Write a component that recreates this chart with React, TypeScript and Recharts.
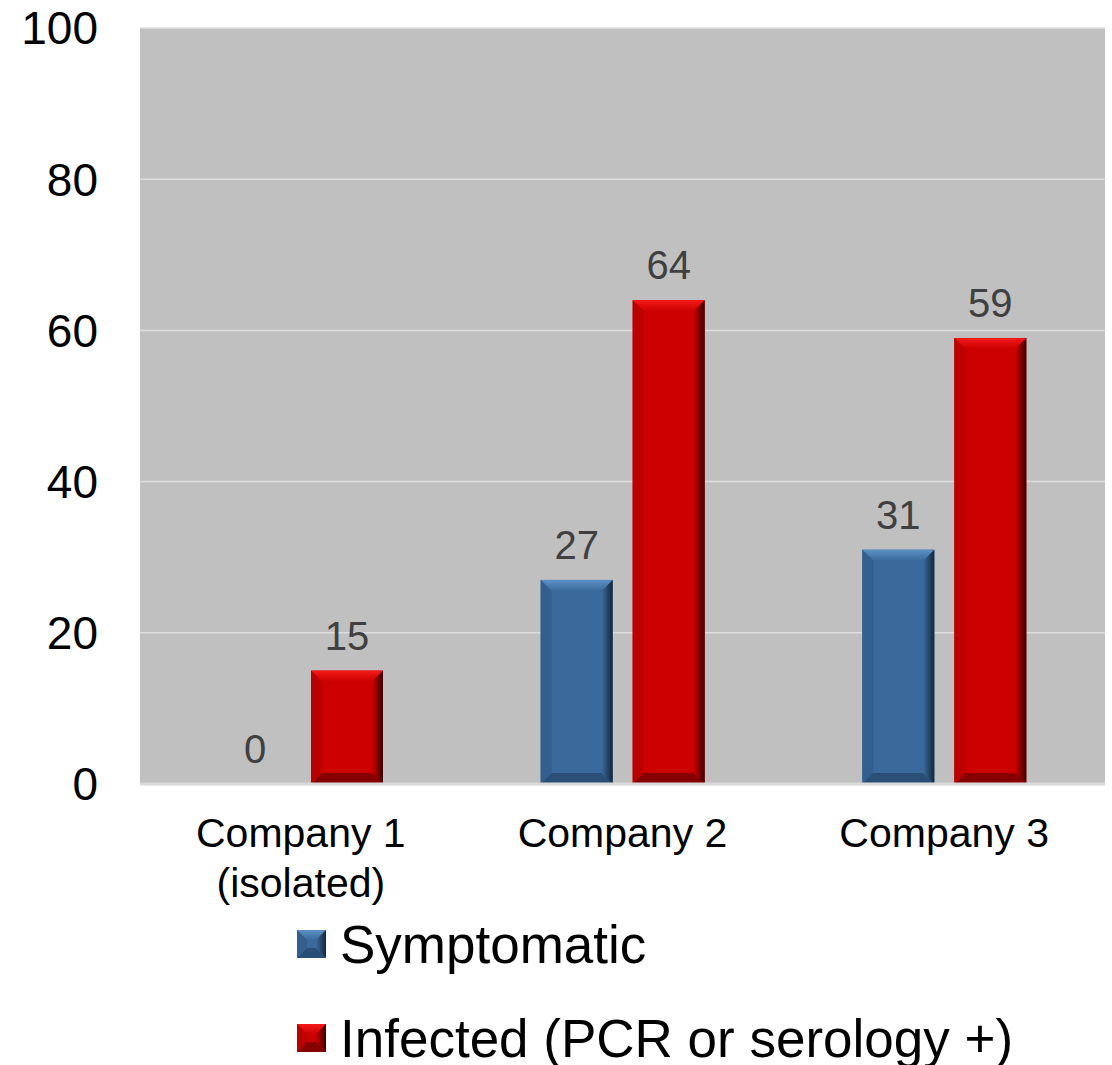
import { BarChart, Bar, XAxis, YAxis, CartesianGrid, Legend, LabelList } from 'recharts';

const categories = ['Company 1\n(isolated)', 'Company 2', 'Company 3'];
const symptomatic = [0, 27, 31];
const infected = [15, 64, 59];
const yTicks = [0, 20, 40, 60, 80, 100];
const seriesOrder = ['symptomatic', 'infected'];

const FONT = '"Liberation Sans", Arial, sans-serif';

const BLUE = { id: 'blue', base: '#3a6a9c', top: '#5d91c6', left: '#325f8d', bottom: '#2a4f76', dark: '#13263a' };
const RED = { id: 'red', base: '#cc0000', top: '#f41a1a', left: '#bb0000', bottom: '#860000', dark: '#380000' };

const data = categories.map((name, i) => ({
  name,
  symptomatic: symptomatic[i],
  infected: infected[i],
}));

type Palette = typeof BLUE;

function Bevel({ x, y, w, h, b, pal }: { x: number; y: number; w: number; h: number; b: number; pal: Palette }) {
  const gid = `edge-${pal.id}`;
  const tid = `top-${pal.id}`;
  return (
    <g>
      <defs>
        <linearGradient id={gid} x1="0" y1="0" x2="1" y2="0">
          <stop offset="0%" stopColor={pal.base} />
          <stop offset="100%" stopColor={pal.dark} />
        </linearGradient>
        <linearGradient id={tid} x1="0" y1="0" x2="0" y2="1">
          <stop offset="0%" stopColor={pal.top} />
          <stop offset="100%" stopColor={pal.base} />
        </linearGradient>
      </defs>
      <rect x={x} y={y} width={w} height={h} fill={pal.base} />
      <polygon points={`${x},${y} ${x + w},${y} ${x + w - b},${y + b} ${x + b},${y + b}`} fill={`url(#${tid})`} />
      <polygon points={`${x},${y} ${x + b},${y + b} ${x + b},${y + h - b} ${x},${y + h}`} fill={pal.left} />
      <polygon points={`${x},${y + h} ${x + w},${y + h} ${x + w - b},${y + h - b} ${x + b},${y + h - b}`} fill={pal.bottom} />
      <polygon points={`${x + w},${y} ${x + w},${y + h} ${x + w - b},${y + h - b} ${x + w - b},${y + b}`} fill={`url(#${gid})`} />
    </g>
  );
}

const makeShape = (pal: Palette) => (props: any) => {
  const { x, y, width, height } = props;
  if (!height || height <= 0) return <g />;
  const b = Math.min(11, height / 2, width / 2);
  return <Bevel x={x} y={y} w={width} h={height} b={b} pal={pal} />;
};

const CategoryTick = ({ x, y, payload }: any) => {
  const lines = String(payload.value).split('\n');
  return (
    <text x={x} y={y} textAnchor="middle" fontSize={41} fill="#000" fontFamily={FONT}>
      {lines.map((l, i) => (
        <tspan key={i} x={x} dy={i === 0 ? 63 : 50}>{l}</tspan>
      ))}
    </text>
  );
};

const LegendContent = ({ payload }: any) => {
  const items = [...(payload || [])].sort(
    (a: any, b: any) => seriesOrder.indexOf(a.dataKey) - seriesOrder.indexOf(b.dataKey)
  );
  return (
    <div style={{ fontFamily: FONT }}>
      {items.map((entry: any) => {
        const pal = entry.dataKey === 'symptomatic' ? BLUE : RED;
        return (
          <div key={entry.value} style={{ display: 'flex', alignItems: 'center', height: 94 }}>
            <svg width={29} height={28} style={{ marginRight: 14 }}>
              <Bevel x={0} y={0} w={29} h={28} b={10} pal={pal} />
            </svg>
            <span style={{ fontSize: 53, color: '#000', whiteSpace: 'nowrap' }}>{entry.value}</span>
          </div>
        );
      })}
    </div>
  );
};

export default function App() {
  return (
    <div style={{ position: 'absolute', left: 0, top: 0, background: '#fff' }}>
      <BarChart
        width={1112}
        height={1065}
        data={data}
        margin={{ top: 28, right: 7, left: 0, bottom: 151 }}
        barSize={72}
        barGap={20}
      >
        <CartesianGrid vertical={false} fill="#c0c0c0" stroke="#dedede" strokeWidth={1.5} />
        <XAxis
          dataKey="name"
          height={130}
          tickLine={false}
          tickSize={0}
          tickMargin={0}
          axisLine={{ stroke: '#dadada', strokeWidth: 3 }}
          tick={<CategoryTick />}
          interval={0}
        />
        <YAxis
          width={140}
          domain={[0, 100]}
          ticks={yTicks}
          tickLine={false}
          axisLine={false}
          tickSize={0}
          tickMargin={42}
          tick={{ fontSize: 46, fill: '#000', fontFamily: FONT }}
        />
        <Legend
          layout="vertical"
          align="center"
          verticalAlign="middle"
          content={<LegendContent />}
          wrapperStyle={{ left: 297, top: 897, width: 800, height: 168 }}
        />
        <Bar dataKey="symptomatic" name="Symptomatic" fill={BLUE.base} shape={makeShape(BLUE)} isAnimationActive={false}>
          <LabelList dataKey="symptomatic" position="top" offset={21} fill="#404040" fontSize={40} fontFamily={FONT} />
        </Bar>
        <Bar dataKey="infected" name="Infected (PCR or serology +)" fill={RED.base} shape={makeShape(RED)} isAnimationActive={false}>
          <LabelList dataKey="infected" position="top" offset={21} fill="#404040" fontSize={40} fontFamily={FONT} />
        </Bar>
      </BarChart>
    </div>
  );
}
